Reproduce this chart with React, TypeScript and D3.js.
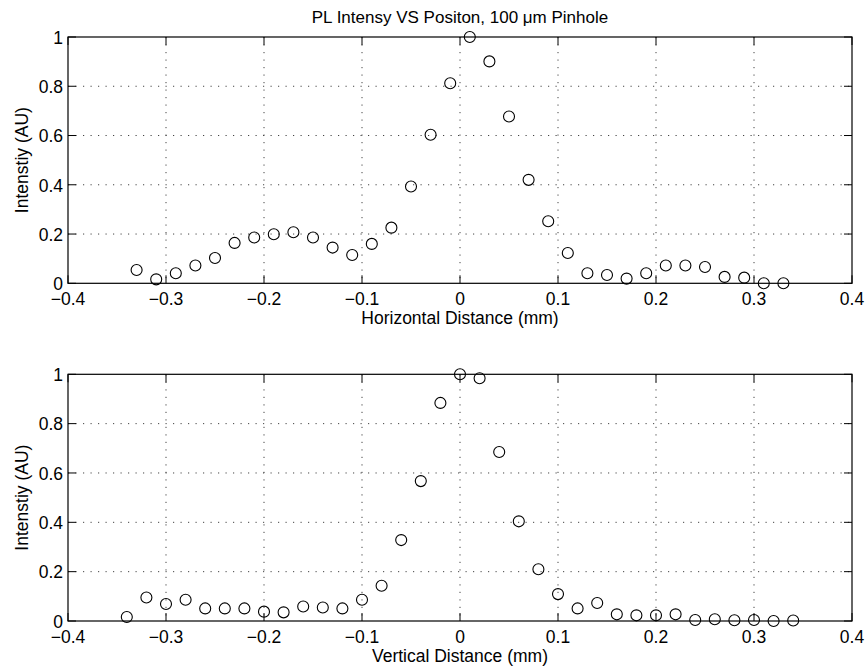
import React from "react";
import * as d3 from "d3";

const titleText = "PL Intensy VS Positon, 100 μm Pinhole";
const yLabelText = "Intenstiy (AU)";
const xLabelTop = "Horizontal Distance (mm)";
const xLabelBottom = "Vertical Distance (mm)";

const xTicks = [-0.4, -0.3, -0.2, -0.1, 0, 0.1, 0.2, 0.3, 0.4];
const yTicks = [0, 0.2, 0.4, 0.6, 0.8, 1];

const horizX = [
  -0.33, -0.31, -0.29, -0.27, -0.25, -0.23, -0.21, -0.19, -0.17, -0.15, -0.13, -0.11,
  -0.09, -0.07, -0.05, -0.03, -0.01, 0.01, 0.03, 0.05, 0.07, 0.09, 0.11, 0.13, 0.15,
  0.17, 0.19, 0.21, 0.23, 0.25, 0.27, 0.29, 0.31, 0.33,
];
const horizY = [
  0.054, 0.016, 0.041, 0.072, 0.103, 0.164, 0.186, 0.199, 0.207, 0.186, 0.145, 0.115,
  0.16, 0.226, 0.393, 0.603, 0.812, 1.0, 0.901, 0.677, 0.42, 0.252, 0.123, 0.041, 0.034,
  0.019, 0.041, 0.072, 0.072, 0.066, 0.026, 0.023, 0.0, 0.0,
];

const vertX = [
  -0.34, -0.32, -0.3, -0.28, -0.26, -0.24, -0.22, -0.2, -0.18, -0.16, -0.14, -0.12,
  -0.1, -0.08, -0.06, -0.04, -0.02, 0, 0.02, 0.04, 0.06, 0.08, 0.1, 0.12, 0.14, 0.16,
  0.18, 0.2, 0.22, 0.24, 0.26, 0.28, 0.3, 0.32, 0.34,
];
const vertY = [
  0.016, 0.095, 0.069, 0.086, 0.051, 0.051, 0.051, 0.038, 0.035, 0.059, 0.055, 0.051,
  0.086, 0.143, 0.328, 0.567, 0.884, 1.0, 0.984, 0.685, 0.404, 0.21, 0.109, 0.051,
  0.073, 0.027, 0.023, 0.023, 0.027, 0.004, 0.007, 0.003, 0.004, 0.0, 0.002,
];

const FONT = "'Liberation Sans', Arial, Helvetica, sans-serif";
const FS = 17.5;
const fmt = (v: number) => {
  if (v === 0) return "0";
  if (v === 1) return "1";
  const s = Math.abs(v).toFixed(1);
  return (v < 0 ? "\u2212" : "") + s;
};

type PanelProps = {
  top: number;
  bottom: number;
  xs: number[];
  ys: number[];
  xLabel: string;
};

const LEFT = 68;
const RIGHT = 852;
const TICK = 8;

function Panel({ top, bottom, xs, ys, xLabel }: PanelProps) {
  const x = d3.scaleLinear().domain([-0.4, 0.4]).range([LEFT, RIGHT]);
  const y = d3.scaleLinear().domain([0, 1]).range([bottom, top]);
  const grid = "#444";
  return (
    <g>
      {xTicks.slice(1, -1).map((t) => (
        <line
          key={"gx" + t}
          x1={x(t)}
          x2={x(t)}
          y1={top}
          y2={bottom}
          stroke={grid}
          strokeWidth={1}
          strokeDasharray="1.2,6.3"
        />
      ))}
      {yTicks.slice(1, -1).map((t) => (
        <line
          key={"gy" + t}
          x1={LEFT}
          x2={RIGHT}
          y1={y(t)}
          y2={y(t)}
          stroke={grid}
          strokeWidth={1}
          strokeDasharray="1.2,6.3"
        />
      ))}
      {xTicks.map((t) => (
        <g key={"tx" + t}>
          <line x1={x(t)} x2={x(t)} y1={bottom} y2={bottom - TICK} stroke="#000" />
          <line x1={x(t)} x2={x(t)} y1={top} y2={top + TICK} stroke="#000" />
          <text
            x={x(t)}
            y={bottom + 21.5}
            textAnchor="middle"
            fontFamily={FONT}
            fontSize={FS}
            fill="#000"
          >
            {fmt(t)}
          </text>
        </g>
      ))}
      {yTicks.map((t) => (
        <g key={"ty" + t}>
          <line x1={LEFT} x2={LEFT + TICK} y1={y(t)} y2={y(t)} stroke="#000" />
          <line x1={RIGHT} x2={RIGHT - TICK} y1={y(t)} y2={y(t)} stroke="#000" />
          <text
            x={LEFT - 5}
            y={y(t) + 6.8}
            textAnchor="end"
            fontFamily={FONT}
            fontSize={FS}
            fill="#000"
          >
            {fmt(t)}
          </text>
        </g>
      ))}
      <rect
        x={LEFT}
        y={top}
        width={RIGHT - LEFT}
        height={bottom - top}
        fill="none"
        stroke="#000"
        strokeWidth={1.2}
      />
      {xs.map((v, i) => (
        <circle
          key={"p" + i}
          cx={x(v)}
          cy={y(ys[i])}
          r={5.5}
          fill="none"
          stroke="#000"
          strokeWidth={1.1}
        />
      ))}
      <text
        x={(LEFT + RIGHT) / 2}
        y={bottom + 41}
        textAnchor="middle"
        fontFamily={FONT}
        fontSize={FS}
        fill="#000"
      >
        {xLabel}
      </text>
      <text
        transform={`translate(28,${(top + bottom) / 2}) rotate(-90)`}
        textAnchor="middle"
        fontFamily={FONT}
        fontSize={FS}
        fill="#000"
      >
        {yLabelText}
      </text>
    </g>
  );
}

export default function App() {
  return (
    <svg
      width={867}
      height={668}
      style={{ position: "absolute", left: 0, top: 0, background: "#fff" }}
    >
      <rect x={0} y={0} width={867} height={668} fill="#fff" />
      <text
        x={(LEFT + RIGHT) / 2}
        y={23}
        textAnchor="middle"
        fontFamily={FONT}
        fontSize={17}
        fill="#000"
      >
        {titleText}
      </text>
      <Panel top={37} bottom={283.3} xs={horizX} ys={horizY} xLabel={xLabelTop} />
      <Panel top={374.3} bottom={621} xs={vertX} ys={vertY} xLabel={xLabelBottom} />
    </svg>
  );
}
